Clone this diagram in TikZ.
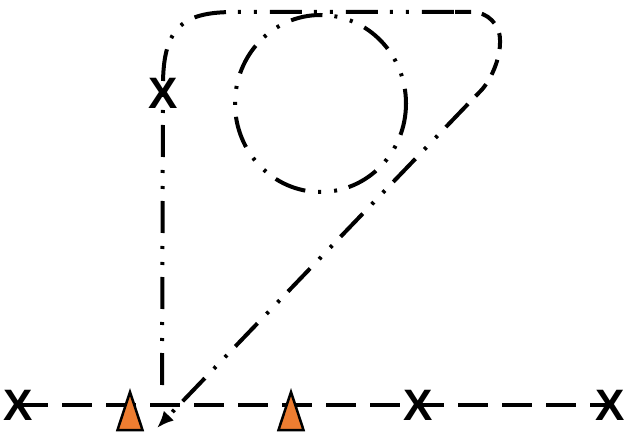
\documentclass[tikz,border=0pt]{standalone}
\usepackage{fontspec}
\setmainfont{Liberation Sans}
\usetikzlibrary{arrows.meta,positioning}
\definecolor{conefill}{HTML}{ED7D31}

\begin{document}
\begin{tikzpicture}[
        x=1pt, y=-1pt,
        xmark/.style={font=\fontsize{44}{44}\selectfont\bfseries, inner sep=0pt},
        track/.style={line width=4pt, dash pattern=on 30pt off 14pt},
        route/.style={line width=4pt, dash pattern=on 32pt off 12pt on 3pt off 13pt on 3pt off 13pt},
        turnline/.style={line width=4pt, dash pattern=on 16pt off 11pt},
        arrow/.style={-{Latex[length=17pt,width=14pt]}},
        cone/.style={draw, line width=2.5pt, fill=conefill, line join=miter}
    ]
    \useasboundingbox (0,0) rectangle (626,435);

    \node[xmark] (xa) at (18,405) {X};
    \node[xmark] (xb) at (418,405) {X};
    \node[xmark] (xc) at (610,405) {X};
    \node[xmark] (xtop) at (163,93) {X};

    \coordinate (start) at (162,385);
    \coordinate (tip) at (157,428);
    \coordinate (ta) at (455,12);
    \coordinate (tb) at (468,104);
    \coordinate (loopc) at (320.5,103.5);

% ground line with the cones
\draw[track] (xa.center) -- (xc.center);
\foreach \x in {130,291}
    \draw[cone] (\x-12.5,430) -- (\x,392) -- (\x+12.5,430) -- cycle;

% the loop
\draw[route] (loopc) ellipse [x radius=85.5, y radius=88.5];

% the run up, over and back down
\draw[route] (start) -- (xtop.center) -- (163,85) .. controls (163,25) and (185,12) .. (235,12) -- (ta);
\draw[turnline, rounded corners=28pt] (ta) -- (500,12) -- (500,71) -- (tb);
\draw[route, arrow] (tb) -- (tip);

\end{tikzpicture}
\end{document}
